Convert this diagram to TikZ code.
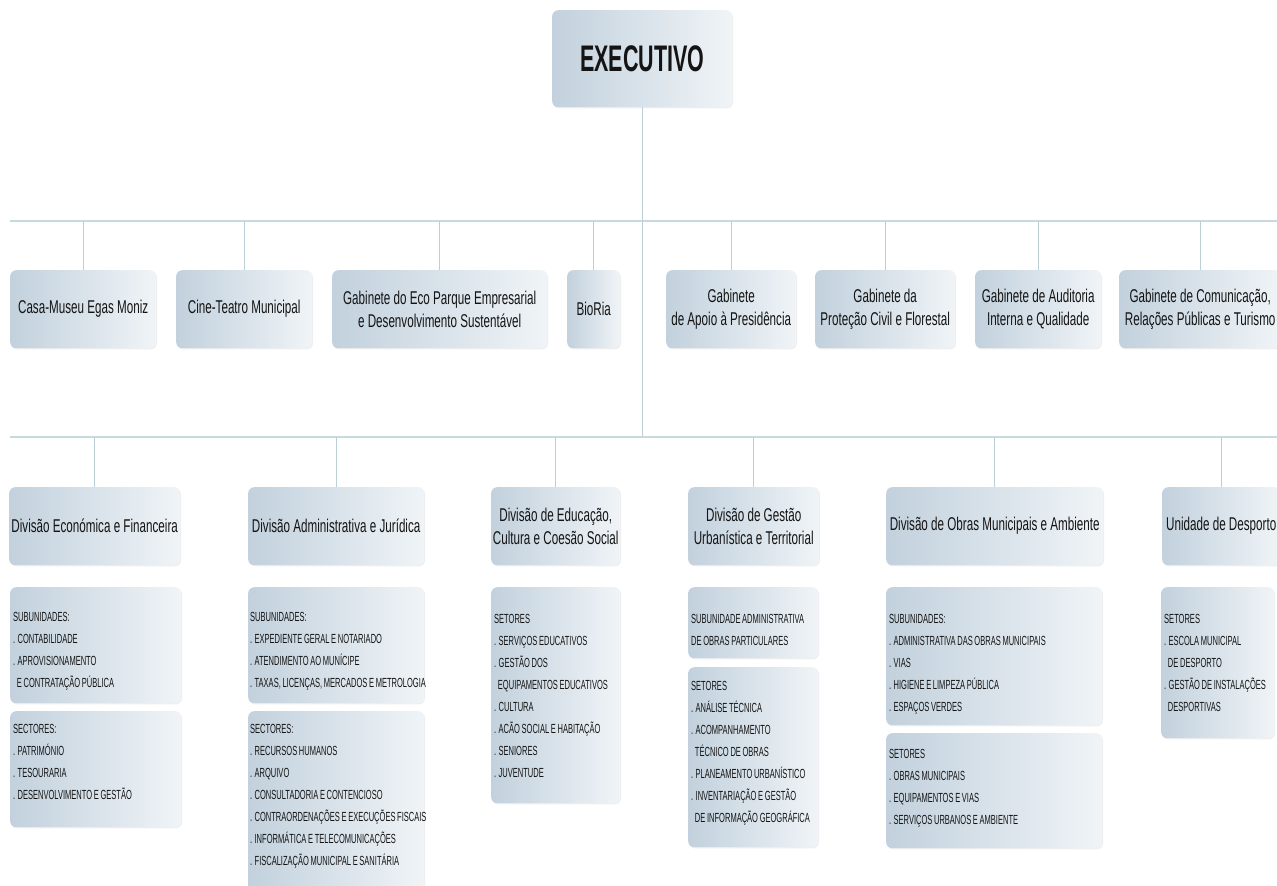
\documentclass[tikz,border=0pt]{standalone}
\usepackage{fontspec}
\setmainfont{Liberation Sans}[FakeStretch=0.63]
\newfontfamily\subfont{Liberation Sans}[FakeStretch=0.57, WordSpace=0.8]
\newfontfamily\execfont{Liberation Sans}[FakeStretch=0.58]
\usetikzlibrary{shadows}
\definecolor{boxL}{RGB}{194,209,221}
\definecolor{boxR}{RGB}{240,244,247}
\definecolor{conn}{RGB}{188,207,215}
\definecolor{bus}{RGB}{200,218,224}
\definecolor{ink}{RGB}{20,20,20}
\newcommand\ind{\leavevmode\phantom{.\ }}
\begin{document}
\begin{tikzpicture}[x=1pt,y=-1pt,
  box/.style={rounded corners=6pt, left color=boxL, right color=boxR, draw=none,
    inner sep=0pt, anchor=north west, text=ink,
    drop shadow={opacity=0.12, shadow xshift=0.8pt, shadow yshift=-1.2pt}},
  lbl/.style={box, align=center, font=\fontsize{18.5}{23}\selectfont},
  subtxt/.style={anchor=north west, inner sep=0pt, align=left, text=ink,
    font=\subfont\fontsize{13.2}{22}\selectfont},
  conn/.style={draw=conn, line width=1.3pt},
  busline/.style={draw=bus, line width=2pt}]
\fill[white] (0,0) rectangle (1277,886);
\useasboundingbox (0,0) rectangle (1277,886);

% bus coordinates
\coordinate (h1L) at (10,221);
\coordinate (h1R) at (1277,221);
\coordinate (h2L) at (10,437);
\coordinate (h2R) at (1277,437);

% top
\node[box, minimum width=180, minimum height=97,
  font=\execfont\bfseries\fontsize{37}{40}\selectfont] (exec) at (552,10) {EXECUTIVO};

% first row
\node[lbl, minimum width=146, minimum height=78] (g1) at (10,270) {Casa-Museu Egas Moniz};
\node[lbl, minimum width=136, minimum height=78] (g2) at (176,270) {Cine-Teatro Municipal};
\node[lbl, minimum width=215, minimum height=78] (g3) at (332,270) {Gabinete do Eco Parque Empresarial\\e Desenvolvimento Sustentável};
\node[lbl, minimum width=53, minimum height=78] (g4) at (567,270) {BioRia};
\node[lbl, minimum width=130, minimum height=78] (g5) at (666,270) {Gabinete\\de Apoio à Presidência};
\node[lbl, minimum width=140, minimum height=78] (g6) at (815,270) {Gabinete da\\Proteção Civil e Florestal};
\node[lbl, minimum width=126, minimum height=78] (g7) at (975,270) {Gabinete de Auditoria\\Interna e Qualidade};
\node[lbl, minimum width=162, minimum height=78] (g8) at (1119,270) {Gabinete de Comunicação,\\Relações Públicas e Turismo};

% divisions
\node[lbl, minimum width=171, minimum height=78] (d1) at (9,487) {Divisão Económica e Financeira};
\node[lbl, minimum width=176, minimum height=78] (d2) at (248,487) {Divisão Administrativa e Jurídica};
\node[lbl, minimum width=129, minimum height=78] (d3) at (491,487) {Divisão de Educação,\\Cultura e Coesão Social};
\node[lbl, minimum width=131, minimum height=78] (d4) at (688,487) {Divisão de Gestão\\Urbanística e Territorial};
\node[lbl, minimum width=217, minimum height=78] (d5) at (886,487) {Divisão de Obras Municipais e Ambiente};
\node[lbl, minimum width=118, minimum height=78] (d6) at (1162,487) {Unidade de Desporto};

% connectors
\draw[busline] (h1L) -- (h1R);
\draw[busline] (h2L) -- (h2R);
\draw[conn] (exec.south) -- (exec.south |- h2L);
\foreach \n in {g1,g2,g3,g4,g5,g6,g7,g8}{
  \draw[conn] (\n.north) -- (\n.north |- h1L);
}
\foreach \n in {d1,d2,d3,d4,d5,d6}{
  \draw[conn] (\n.north) -- (\n.north |- h2L);
}

% sub boxes
\node[box, minimum width=171, minimum height=116] (s1a) at (10,587) {};
\node[subtxt] (s1at) at ([xshift=3pt,yshift=-25pt]s1a.north west)
  {SUBUNIDADES:\\. CONTABILIDADE\\. APROVISIONAMENTO\\\ind E CONTRATAÇÃO PÚBLICA};
\node[box, minimum width=171, minimum height=116] (s1b) at (10,711) {};
\node[subtxt] (s1bt) at ([xshift=3pt,yshift=-13pt]s1b.north west)
  {SECTORES:\\. PATRIMÓNIO\\. TESOURARIA\\. DESENVOLVIMENTO E GESTÃO};

\node[box, minimum width=176, minimum height=116] (s2a) at (248,587) {};
\node[subtxt] (s2at) at ([xshift=2pt,yshift=-25pt]s2a.north west)
  {SUBUNIDADES:\\. EXPEDIENTE GERAL E NOTARIADO\\. ATENDIMENTO AO MUNÍCIPE\\. TAXAS, LICENÇAS, MERCADOS E METROLOGIA};
\node[box, minimum width=176, minimum height=185] (s2b) at (248,711) {};
\node[subtxt] (s2bt) at ([xshift=2pt,yshift=-13pt]s2b.north west)
  {SECTORES:\\. RECURSOS HUMANOS\\. ARQUIVO\\. CONSULTADORIA E CONTENCIOSO\\. CONTRAORDENAÇÕES E EXECUÇÕES FISCAIS\\. INFORMÁTICA E TELECOMUNICAÇÕES\\. FISCALIZAÇÃO MUNICIPAL E SANITÁRIA};

\node[box, minimum width=129, minimum height=216] (s3) at (491,587) {};
\node[subtxt] (s3t) at ([xshift=3pt,yshift=-27pt]s3.north west)
  {SETORES\\. SERVIÇOS EDUCATIVOS\\. GESTÃO DOS\\\ind EQUIPAMENTOS EDUCATIVOS\\. CULTURA\\. ACÃO SOCIAL E HABITAÇÃO\\. SENIORES\\. JUVENTUDE};

\node[box, minimum width=130, minimum height=71] (s4a) at (688,587) {};
\node[subtxt] (s4at) at ([xshift=3pt,yshift=-27pt]s4a.north west)
  {SUBUNIDADE ADMINISTRATIVA\\DE OBRAS PARTICULARES};
\node[box, minimum width=130, minimum height=180] (s4b) at (688,667) {};
\node[subtxt] (s4bt) at ([xshift=3pt,yshift=-14pt]s4b.north west)
  {SETORES\\. ANÁLISE TÉCNICA\\. ACOMPANHAMENTO\\\ind TÉCNICO DE OBRAS\\. PLANEAMENTO URBANÍSTICO\\. INVENTARIAÇÃO E GESTÃO\\\ind DE INFORMAÇÃO GEOGRÁFICA};

\node[box, minimum width=216, minimum height=138] (s5a) at (886,587) {};
\node[subtxt] (s5at) at ([xshift=3pt,yshift=-27pt]s5a.north west)
  {SUBUNIDADES:\\. ADMINISTRATIVA DAS OBRAS MUNICIPAIS\\. VIAS\\. HIGIENE E LIMPEZA PÚBLICA\\. ESPAÇOS VERDES};
\node[box, minimum width=216, minimum height=115] (s5b) at (886,733) {};
\node[subtxt] (s5bt) at ([xshift=3pt,yshift=-16pt]s5b.north west)
  {SETORES\\. OBRAS MUNICIPAIS\\. EQUIPAMENTOS E VIAS\\. SERVIÇOS URBANOS E AMBIENTE};

\node[box, minimum width=113, minimum height=151] (s6) at (1161,587) {};
\node[subtxt] (s6t) at ([xshift=3pt,yshift=-27pt]s6.north west)
  {SETORES\\. ESCOLA MUNICIPAL\\\ind DE DESPORTO\\. GESTÃO DE INSTALAÇÕES\\\ind DESPORTIVAS};
\end{tikzpicture}
\end{document}
